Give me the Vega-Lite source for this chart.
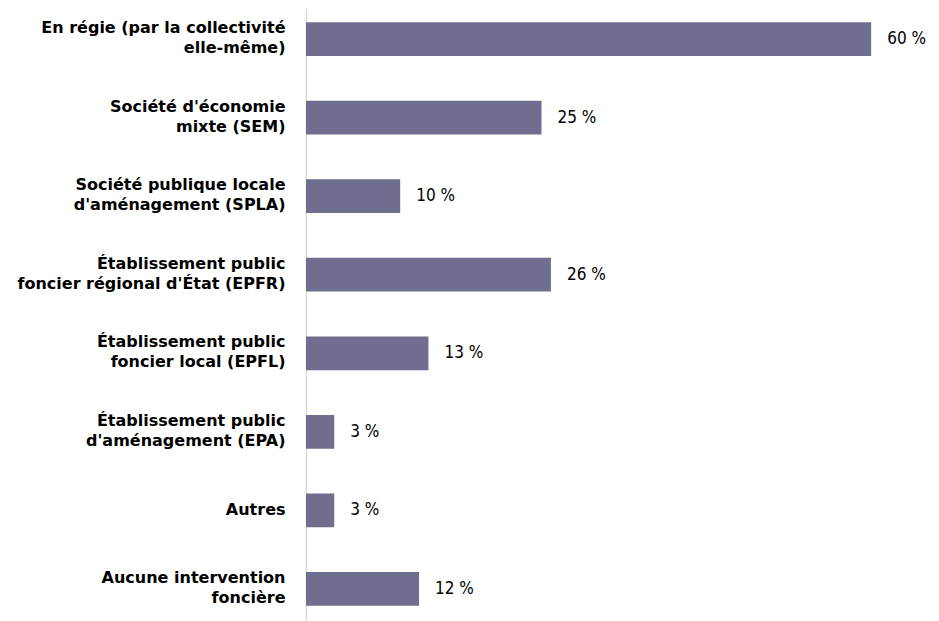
{
  "$schema": "https://vega.github.io/schema/vega-lite/v6.json",
  "autosize": {"type": "none"},
  "padding": {"left": 306, "top": 8, "right": 49, "bottom": 1},
  "width": 584,
  "height": 612,
  "background": "white",
  "data": {
    "values": [
      {"cat": "En régie (par la collectivité|elle-même)", "v": 60, "o": 1},
      {"cat": "Société d'économie|mixte (SEM)", "v": 25, "o": 2},
      {"cat": "Société publique locale|d'aménagement (SPLA)", "v": 10, "o": 3},
      {"cat": "Établissement public|foncier régional d'État (EPFR)", "v": 26, "o": 4},
      {"cat": "Établissement public|foncier local (EPFL)", "v": 13, "o": 5},
      {"cat": "Établissement public|d'aménagement (EPA)", "v": 3, "o": 6},
      {"cat": "Autres", "v": 3, "o": 7},
      {"cat": "Aucune intervention|foncière", "v": 12, "o": 8}
    ]
  },
  "transform": [{"calculate": "datum.v + ' %'", "as": "lbl"}],
  "encoding": {
    "y": {
      "field": "cat", "type": "nominal",
      "sort": {"field": "o", "order": "ascending"},
      "scale": {"paddingInner": 0.57, "paddingOuter": 0.18},
      "axis": {
        "title": null, "ticks": false,
        "domainColor": "#d9d9d9", "domainWidth": 1.5,
        "labelExpr": "split(datum.label, '|')",
        "labelFont": "DejaVu Sans", "labelFontWeight": "bold", "labelFontSize": 16,
        "labelColor": "#000000", "labelPadding": 21, "labelLineHeight": 20,
        "labelOffset": {"condition": {"test": "datum.value == 'Autres'", "value": 0}, "value": -11},
        "labelLimit": 400
      }
    },
    "x": {
      "field": "v", "type": "quantitative",
      "scale": {"domain": [0, 62], "nice": false},
      "axis": null
    }
  },
  "layer": [
    {"mark": {"type": "bar", "color": "#6f6e8e"}},
    {
      "mark": {"type": "text", "align": "left", "dx": 16, "font": "DejaVu Sans Condensed, Liberation Sans", "fontSize": 17, "color": "#000000"},
      "encoding": {"text": {"field": "lbl", "type": "nominal"}}
    }
  ],
  "config": {"view": {"stroke": null}}
}
